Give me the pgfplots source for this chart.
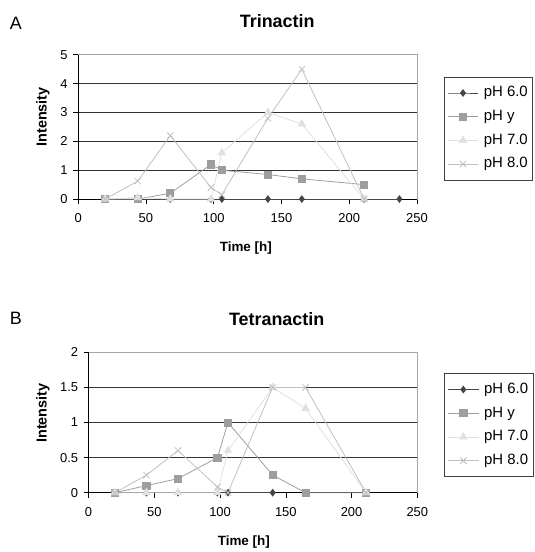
\documentclass[border=0pt]{standalone}
\usepackage{fontspec}
\setmainfont{Liberation Sans}
\usepackage{pgfplots}
\pgfplotsset{compat=1.18}

\definecolor{phsix}{RGB}{70,70,70}
\definecolor{phy}{RGB}{158,158,158}
\definecolor{phseven}{RGB}{224,224,224}
\definecolor{pheight}{RGB}{192,192,192}

\pgfplotsset{
  excel/.style={
    set layers,
    scale only axis,
    clip=false,
    xmin=0, xmax=250, xtick={0,50,...,250},
    tick align=outside,
    xtick pos=left, ytick pos=left,
    major tick length=5pt,
    ymajorgrids,
    grid style={black!80, line width=0.6pt},
    axis line style={gray!70, line width=0.6pt},
    tick style={black, line width=0.6pt},
    tick label style={font=\fontsize{13}{15}\selectfont},
    /pgf/number format/assume math mode=true,
    xticklabel style={yshift=-6pt},
    yticklabel style={xshift=-2pt},
    legend cell align=left,
    legend style={draw=black!75, line width=0.6pt, anchor=north west,
      font=\fontsize{15}{17}\selectfont,
      inner xsep=3pt, inner ysep=7pt, row sep=5.6pt, column sep=3pt,
      nodes={inner sep=2pt, text height=11pt, text depth=3.2pt}},
    legend image code/.code={\draw[#1, mark repeat=2, mark phase=2]
      plot coordinates {(0pt,0pt) (15.5pt,0pt) (31pt,0pt)};},
    every axis plot/.append style={line width=0.8pt},
  },
  s6/.style={color=phsix, mark=diamond*, mark size=3.3pt},
  sy/.style={color=phy, mark=square*, mark size=3.6pt},
  s7/.style={color=phseven, mark=triangle*, mark size=4.2pt},
  s8/.style={color=pheight, mark=x, mark size=4.5pt},
}

\begin{document}
\begin{tikzpicture}
% panel A
\node at (16pt,-23pt) {\fontsize{18}{20}\selectfont A};
\node at (278.5pt,-21pt) {\fontsize{18}{20}\selectfont\bfseries Trinactin};
\begin{axis}[excel,
  at={(78.5pt,-200pt)}, anchor=south west,
  width=340.5pt, height=145pt,
  ymin=0, ymax=5, ytick={0,1,...,5},
  legend style={at={(1.0793,0.848)}},
  ]
  \draw[on layer=axis tick labels, black, line width=0.6pt]
    (rel axis cs:0,1) -- (rel axis cs:0,0) -- (rel axis cs:1,0);
  \addplot[s6] coordinates {(20,0)(44,0)(68,0)(98,0)(106,0)(140,0)(165,0)(211,0)(237,0)};
  \addlegendentry{pH 6.0}
  \addplot[sy] coordinates {(20,0)(44,0)(68,0.2)(98,1.2)(106,1.0)(140,0.85)(165,0.7)(211,0.5)};
  \addlegendentry{pH y}
  \addplot[s7] coordinates {(20,0)(44,0.05)(68,0)(98,0)(106,1.6)(140,3.0)(165,2.6)(211,0)};
  \addlegendentry{pH 7.0}
  \addplot[s8] coordinates {(20,0)(44,0.62)(68,2.2)(98,0.4)(106,0.15)(140,2.8)(165,4.5)(211,0)};
  \addlegendentry{pH 8.0}
\end{axis}
\node[rotate=90] at (43pt,-117.5pt) {\fontsize{14.5}{16}\selectfont\bfseries Intensity};
\node at (247pt,-249pt) {\fontsize{13.5}{15}\selectfont\bfseries Time [h]};

% panel B
\node at (16pt,-320pt) {\fontsize{18}{20}\selectfont B};
\node at (278pt,-321pt) {\fontsize{18}{20}\selectfont\bfseries Tetranactin};
\begin{axis}[excel,
  at={(89pt,-495pt)}, anchor=south west,
  width=330.3pt, height=141pt,
  ymin=0, ymax=2, ytick={0,0.5,...,2},
  legend style={at={(1.0818,0.851)}},
  ]
  \draw[on layer=axis tick labels, black, line width=0.6pt]
    (rel axis cs:0,1) -- (rel axis cs:0,0) -- (rel axis cs:1,0);
  \addplot[s6] coordinates {(20,0)(44,0)(68,0)(98,0)(106,0)(140,0)};
  \addlegendentry{pH 6.0}
  \addplot[sy] coordinates {(20,0)(44,0.1)(68,0.2)(98,0.5)(106,1.0)(140,0.25)(165,0)(211,0)};
  \addlegendentry{pH y}
  \addplot[s7] coordinates {(20,0)(44,0)(68,0)(98,0)(106,0.6)(140,1.5)(165,1.2)(211,0)};
  \addlegendentry{pH 7.0}
  \addplot[s8] coordinates {(20,0)(44,0.25)(68,0.6)(98,0.08)(106,0)(140,1.5)(165,1.5)(211,0)};
  \addlegendentry{pH 8.0}
\end{axis}
\node[rotate=90] at (43pt,-415pt) {\fontsize{14.5}{16}\selectfont\bfseries Intensity};
\node at (245pt,-545pt) {\fontsize{13.5}{15}\selectfont\bfseries Time [h]};
\path (0,0) rectangle (537pt,-552pt);
\end{tikzpicture}
\end{document}
